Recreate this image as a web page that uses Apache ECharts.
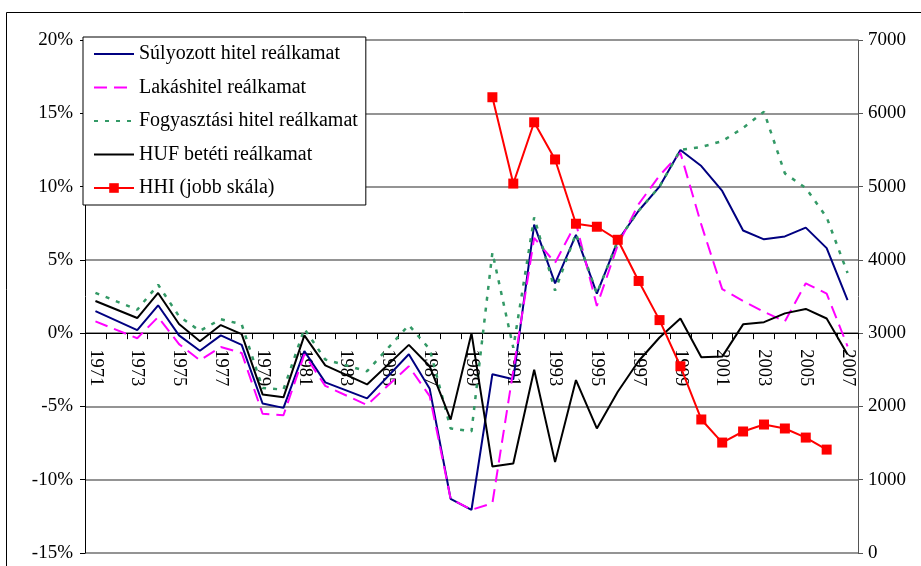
<!DOCTYPE html>
<html>
<head>
<meta charset="utf-8">
<script src="https://cdn.jsdelivr.net/npm/echarts@6/dist/echarts.min.js"></script>
<style>
html,body{margin:0;padding:0;background:#fff;}
#chart{width:921px;height:566px;}
</style>
</head>
<body>
<div id="chart"></div>
<script>
var years = ['1971','1972','1973','1974','1975','1976','1977','1978','1979','1980','1981','1982','1983','1984','1985','1986','1987','1988','1989','1990','1991','1992','1993','1994','1995','1996','1997','1998','1999','2000','2001','2002','2003','2004','2005','2006','2007'];

var sulyozott = [1.5,null,0.2,1.9,-0.15,-1.2,-0.15,-0.8,-4.8,-5.1,-1.23,-3.36,null,-4.45,null,-1.44,-3.8,-11.3,-12.05,-2.8,-3.15,7.4,3.4,6.7,2.7,6.3,8.35,10.0,12.5,11.4,9.7,7.0,6.4,6.6,7.2,5.8,2.26];

var lakashitel = [0.8,null,-0.35,1.1,-0.75,-1.85,-0.95,-1.35,-5.5,-5.6,-1.45,-3.6,null,-4.9,null,-2.26,-4.3,-11.3,-12.05,-11.6,null,6.5,4.8,7.5,1.85,6.0,8.8,10.75,12.3,7.4,3.0,2.2,1.45,0.8,3.4,2.7,-0.9];

var fogyasztasi = [2.75,null,1.6,3.3,1.15,0.15,0.95,0.6,-3.75,-3.85,0.3,-1.8,null,-2.6,null,0.55,-1.1,-6.5,-6.7,5.5,-1.0,7.9,2.9,6.8,2.7,6.3,8.35,10.0,12.5,12.7,13.1,14.0,15.1,10.9,9.9,7.9,4.1];

var hufBeteti = [2.19,null,1.03,2.74,0.62,-0.55,0.55,-0.07,-4.18,-4.38,-0.15,-2.2,null,-3.5,null,-0.8,-2.26,-5.9,0.0,-9.1,-8.9,-2.5,-8.8,-3.2,-6.5,-4.0,-1.9,-0.3,1.0,-1.65,-1.6,0.6,0.75,1.35,1.65,1.0,-1.45];

var hhi = [null,null,null,null,null,null,null,null,null,null,null,null,null,null,null,null,null,null,null,6219,5041,5877,5370,4493,4452,4274,3712,3178,2548,1822,1507,1658,1753,1699,1575,1411,null];

var seriesNames = ['Súlyozott hitel reálkamat','Lakáshitel reálkamat','Fogyasztási hitel reálkamat','HUF betéti reálkamat','HHI (jobb skála)'];

var FONT = '"Liberation Serif", "Times New Roman", serif';

var chart = echarts.init(document.getElementById('chart'), null, {renderer:'canvas'});

function lineSeries(name, data, color, width, type) {
  return {
    name: name, type: 'line', data: data, yAxisIndex: 0,
    symbol: 'none', showSymbol: false, connectNulls: true, z: 3,
    lineStyle: {color: color, width: width, type: type},
    itemStyle: {color: color}
  };
}

var legendData = seriesNames.map(function (n, i) {
  return i < 4 ? {name: n, itemStyle: {opacity: 0}} : {name: n};
});

var GRID_TOP = 40, GRID_BOTTOM_PX = 553;
var zeroY = GRID_TOP + (GRID_BOTTOM_PX - GRID_TOP) * (20 / 35);

chart.setOption({
  animation: false,
  backgroundColor: '#fff',
  textStyle: {fontFamily: FONT},
  grid: {left: 85, right: 63, top: GRID_TOP, bottom: 566 - GRID_BOTTOM_PX, containLabel: false, outerBoundsMode: 'none'},
  graphic: [
    {type: 'line', shape: {x1: 6.5, y1: 12.5, x2: 921, y2: 12.5}, style: {stroke: '#000', lineWidth: 1}, z: 0},
    {type: 'line', shape: {x1: 6.5, y1: 12.5, x2: 6.5, y2: 566}, style: {stroke: '#000', lineWidth: 1}, z: 0}
  ],
  legend: {
    orient: 'vertical', left: 83, top: 37,
    padding: [7, 8, 7, 10], itemGap: 13.5, itemWidth: 40, itemHeight: 12,
    backgroundColor: '#fff', borderColor: '#000', borderWidth: 1,
    textStyle: {fontFamily: FONT, fontSize: 20, color: '#000'},
    data: legendData, z: 10
  },
  xAxis: {
    type: 'category', data: years, boundaryGap: true, position: 'bottom',
    offset: -(GRID_BOTTOM_PX - zeroY),
    axisLine: {onZero: false, lineStyle: {color: '#000', width: 1}},
    axisTick: {show: true, interval: 0, length: 6, lineStyle: {color: '#000'}},
    axisLabel: {interval: 1, rotate: -90, fontFamily: FONT, fontSize: 18.5, color: '#000', margin: 16},
    splitLine: {show: false}
  },
  yAxis: [
    {
      type: 'value', min: -15, max: 20, interval: 5,
      axisLine: {show: true, lineStyle: {color: '#000'}},
      axisTick: {show: true, length: 5, lineStyle: {color: '#000'}},
      axisLabel: {formatter: '{value}%', fontFamily: FONT, fontSize: 19, color: '#000', margin: 12},
      splitLine: {show: true, lineStyle: {color: '#707070', width: 1.5}}
    },
    {
      type: 'value', min: 0, max: 7000, interval: 1000,
      axisLine: {show: true, lineStyle: {color: '#555'}},
      axisTick: {show: true, length: 5, lineStyle: {color: '#555'}},
      axisLabel: {formatter: function (v) { return String(v); }, fontFamily: FONT, fontSize: 19, color: '#000', margin: 10},
      splitLine: {show: false}
    }
  ],
  series: [
    lineSeries(seriesNames[0], sulyozott, '#000080', 2, 'solid'),
    lineSeries(seriesNames[1], lakashitel, '#FF00FF', 2, [13, 7]),
    lineSeries(seriesNames[2], fogyasztasi, '#339966', 2.5, [4, 7]),
    lineSeries(seriesNames[3], hufBeteti, '#000000', 2, 'solid'),
    {
      name: seriesNames[4], type: 'line', data: hhi, yAxisIndex: 1,
      symbol: 'rect', symbolSize: 10, showSymbol: true, connectNulls: false, z: 4,
      lineStyle: {color: '#FF0000', width: 2},
      itemStyle: {color: '#FF0000'}
    }
  ]
});
</script>
</body>
</html>
